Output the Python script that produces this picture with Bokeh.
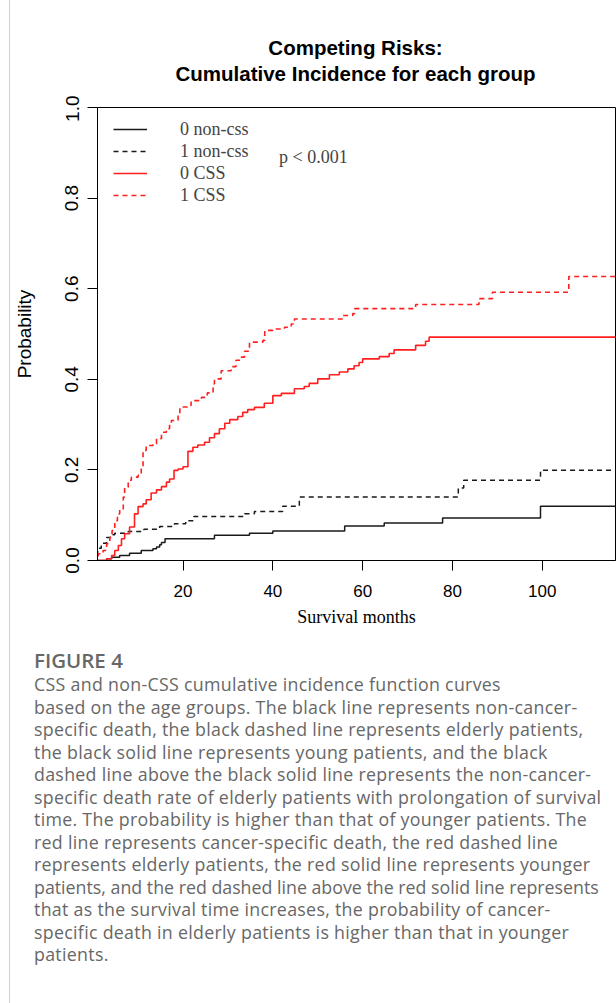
from bokeh.plotting import figure
from bokeh.models import (Range1d, FixedTicker, PrintfTickFormatter, Legend,
                          LegendItem, Label, Div)
from bokeh.layouts import column
from bokeh.embed import file_html
from bokeh.resources import INLINE

# ---- data ----
months_nc0 = [0, 3.0, 4.1, 5.9, 8.1, 10.7, 13.3, 14.1, 14.8, 15.2, 16.0, 27.0,
              34.8, 40.0, 56.0, 64.8, 77.8, 99.6, 120]
cif_nc0 = [0, 0.004, 0.007, 0.011, 0.016, 0.022, 0.026, 0.030, 0.035, 0.040,
           0.048, 0.056, 0.060, 0.065, 0.076, 0.083, 0.094, 0.120, 0.120]

months_nc1 = [0, 1.0, 1.8, 3.0, 4.4, 4.8, 7.8, 11.3, 14.8, 18.1, 20.6, 22.4,
              33.7, 35.9, 42.2, 45.9, 81.3, 82.5, 99.6, 120]
cif_nc1 = [0, 0.027, 0.038, 0.051, 0.057, 0.060, 0.064, 0.069, 0.075, 0.081,
           0.088, 0.097, 0.103, 0.108, 0.120, 0.140, 0.160, 0.177, 0.199, 0.199]

months_css0 = [0, 3.0, 4.1, 4.8, 5.6, 6.3, 7.0, 8.1, 9.2, 10.0, 11.1, 11.8,
               12.9, 14.1, 15.2, 16.3, 17.0, 18.0, 18.9, 20.0, 21.1, 22.2,
               23.3, 24.8, 25.9, 27.0, 28.1, 29.3, 30.4, 32.2, 33.3, 34.4,
               35.9, 38.1, 40.0, 41.9, 44.8, 47.0, 48.1, 50.0, 52.6, 54.8,
               56.7, 58.1, 59.2, 60.0, 63.7, 65.9, 67.0, 71.8, 74.0, 74.8, 120]
cif_css0 = [0, 0.004, 0.011, 0.022, 0.033, 0.048, 0.059, 0.074, 0.103, 0.119,
            0.125, 0.134, 0.149, 0.156, 0.163, 0.173, 0.180, 0.199, 0.202,
            0.207, 0.241, 0.250, 0.255, 0.261, 0.271, 0.280, 0.291, 0.303,
            0.311, 0.318, 0.327, 0.333, 0.338, 0.347, 0.364, 0.369, 0.379,
            0.384, 0.391, 0.401, 0.410, 0.416, 0.423, 0.430, 0.437, 0.445,
            0.450, 0.457, 0.465, 0.475, 0.484, 0.493, 0.493]

months_css1 = [0, 1.1, 2.2, 3.0, 3.7, 4.2, 4.8, 5.4, 5.9, 6.7, 7.0, 7.8, 8.5,
               10.0, 10.7, 11.1, 11.8, 13.3, 14.1, 15.2, 16.3, 17.0, 17.4,
               18.9, 19.3, 21.1, 21.8, 24.1, 25.4, 26.7, 27.0, 28.5, 30.7,
               31.8, 33.0, 33.7, 34.8, 37.8, 38.2, 40.0, 42.6, 44.1, 44.8,
               55.6, 57.8, 58.2, 71.8, 85.9, 88.9, 105.9, 120]
cif_css1 = [0, 0.015, 0.022, 0.037, 0.051, 0.066, 0.088, 0.103, 0.114, 0.140,
            0.162, 0.177, 0.184, 0.188, 0.205, 0.243, 0.254, 0.258, 0.269,
            0.283, 0.291, 0.302, 0.309, 0.324, 0.339, 0.342, 0.353, 0.360,
            0.370, 0.390, 0.401, 0.419, 0.428, 0.442, 0.449, 0.462, 0.482,
            0.486, 0.508, 0.511, 0.515, 0.522, 0.533, 0.541, 0.545, 0.556,
            0.565, 0.578, 0.592, 0.627, 0.627]

x_ticks = [20, 40, 60, 80, 100]
y_ticks = [0.0, 0.2, 0.4, 0.6, 0.8, 1.0]
legend_labels = ["0 non-css", "1 non-css", "0 CSS", "1 CSS"]
p_text = "p < 0.001"
title_lines = ["Competing Risks:", "Cumulative Incidence for each group"]

caption_title = "FIGURE 4"
caption_lines = [
    "CSS and non-CSS cumulative incidence function curves",
    "based on the age groups. The black line represents non-cancer-",
    "specific death, the black dashed line represents elderly patients,",
    "the black solid line represents young patients, and the black",
    "dashed line above the black solid line represents the non-cancer-",
    "specific death rate of elderly patients with prolongation of survival",
    "time. The probability is higher than that of younger patients. The",
    "red line represents cancer-specific death, the red dashed line",
    "represents elderly patients, the red solid line represents younger",
    "patients, and the red dashed line above the red solid line represents",
    "that as the survival time increases, the probability of cancer-",
    "specific death in elderly patients is higher than that in younger",
    "patients.",
]
tight_line = 9  # this caption line is set condensed in the reference

BLACK = "#1a1a1a"
RED = "#ff1f1f"

FRAME_LEFT = 86
FRAME_W = 519

# ---- title block ----
title_html = ('<div style="margin-left:%dpx;width:%dpx;text-align:center;'
              'font-family:\'Liberation Sans\';font-weight:bold;font-size:20.5px;'
              'line-height:26px;color:#000;padding-top:35px;white-space:nowrap">'
              % (FRAME_LEFT, FRAME_W)
              + "<br>".join(title_lines) + '</div>')
title_div = Div(text=title_html, width=606, height=95, margin=(0, 0, 0, 0))

# ---- plot ----
p = figure(width=606, height=535, x_range=Range1d(0.96, 116.3),
           y_range=Range1d(0, 1), output_backend="svg", toolbar_location=None,
           min_border_left=FRAME_LEFT, min_border_right=1, min_border_top=12,
           min_border_bottom=70)
p.grid.visible = False
p.outline_line_color = "black"
p.outline_line_width = 1
p.background_fill_color = "white"
p.border_fill_color = "white"

r1 = p.step(months_nc0, cif_nc0, mode="after", line_color=BLACK, line_width=1.5)
r2 = p.step(months_nc1, cif_nc1, mode="after", line_color=BLACK, line_width=1.5,
            line_dash="5 4")
r3 = p.step(months_css0, cif_css0, mode="after", line_color=RED, line_width=1.6)
r4 = p.step(months_css1, cif_css1, mode="after", line_color=RED, line_width=1.6,
            line_dash="5 4")

for ax in (p.xaxis, p.yaxis):
    ax.major_tick_out = 10
    ax.major_tick_in = 0
    ax.minor_tick_out = 0
    ax.minor_tick_in = 0
    ax.axis_line_color = "black"
    ax.major_tick_line_color = "black"
    ax.major_label_text_font = "Liberation Sans"
    ax.major_label_text_color = "black"
    ax.axis_label_text_font_style = "normal"
    ax.axis_label_text_color = "black"

p.xaxis.major_label_text_font_size = "17px"
p.yaxis.major_label_text_font_size = "19px"
p.xaxis.ticker = FixedTicker(ticks=x_ticks)
p.yaxis.ticker = FixedTicker(ticks=y_ticks)
p.yaxis.formatter = PrintfTickFormatter(format="%.1f")
p.yaxis.major_label_orientation = "vertical"
p.xaxis.major_label_standoff = 14
p.yaxis.major_label_standoff = 9

p.xaxis.axis_label = "Survival months"
p.xaxis.axis_label_text_font = "Liberation Serif"
p.xaxis.axis_label_text_font_size = "18px"
p.xaxis.axis_label_standoff = 7
p.yaxis.axis_label = "Probability"
p.yaxis.axis_label_text_font = "Liberation Sans"
p.yaxis.axis_label_text_font_size = "19px"
p.yaxis.axis_label_standoff = 28

legend = Legend(items=[LegendItem(label=lab, renderers=[r]) for lab, r in
                       zip(legend_labels, [r1, r2, r3, r4])],
                location=(16, 354), border_line_color=None,
                background_fill_alpha=0, padding=0, margin=0, spacing=0,
                glyph_width=34, glyph_height=22, label_height=22,
                label_standoff=33, label_text_font="Liberation Serif",
                label_text_font_size="18px", label_text_baseline="middle")
p.add_layout(legend)

p.add_layout(Label(x=41.4, y=0.89, text=p_text, text_font="Liberation Serif",
                   text_font_size="18px", text_baseline="middle",
                   text_align="left"))

# ---- caption ----
body = []
for i, line in enumerate(caption_lines):
    ls = "0px" if i == tight_line else "0.3px"
    body.append('<div style="letter-spacing:%s">%s</div>' % (ls, line))

html = ('<div style="font-family:\'Open Sans\';color:#676767;font-size:17.8px;'
        'line-height:22.5px;white-space:nowrap;padding-left:24px;'
        'padding-top:17px;margin:0">'
        '<div style="font-weight:600;font-size:20.5px;line-height:26px">'
        + caption_title + '</div>' + "".join(body) + '</div>')
cap = Div(text=html, width=606, height=373, margin=(0, 0, 0, 0))

layout = column(title_div, p, cap, styles={"border-left": "1px solid #d2d2d2",
                                           "margin-left": "9px"})

open("out.html", "w").write(file_html(layout, INLINE))
